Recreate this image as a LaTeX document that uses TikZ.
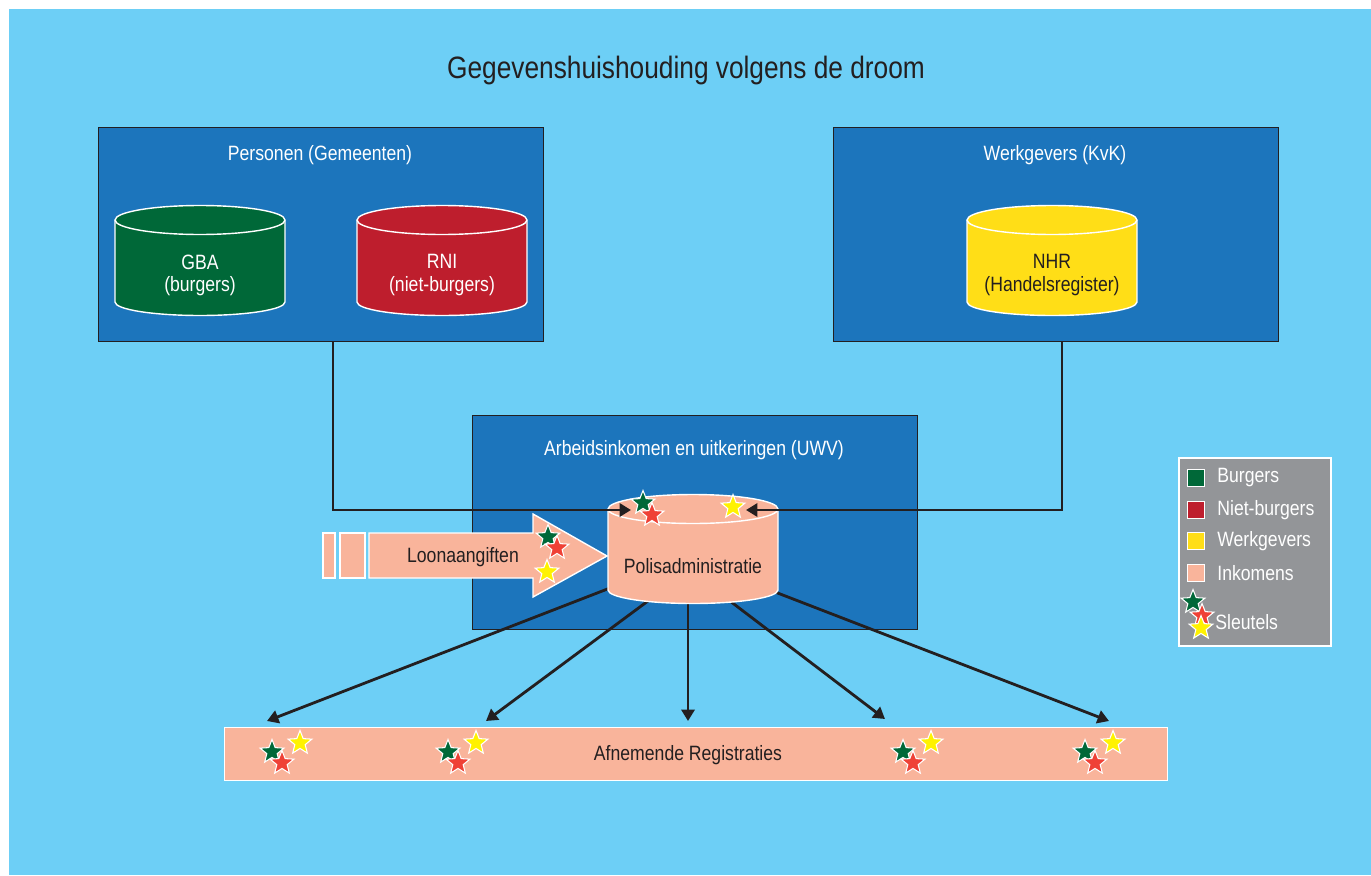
\documentclass[tikz,border=0pt]{standalone}
\usepackage{fontspec}
\setmainfont{Liberation Sans}[FakeStretch=0.85]
\usetikzlibrary{shapes.geometric,arrows.meta}
\definecolor{bgblue}{HTML}{6DCFF6}
\definecolor{boxblue}{HTML}{1C75BC}
\definecolor{dark}{HTML}{231F20}
\definecolor{gbagreen}{HTML}{006838}
\definecolor{rnired}{HTML}{BE1E2D}
\definecolor{nhryellow}{HTML}{FFDE17}
\definecolor{salmon}{HTML}{F9B49B}
\definecolor{legendgray}{HTML}{939598}
\definecolor{starred}{HTML}{EF4136}
\definecolor{staryellow}{HTML}{FFF200}
\newcommand\dbcyl[4]{%
  \filldraw[fill=#4, draw=white, line width=0.8pt] (#1-85,-#2) -- (#1-85,-#3)
    arc[start angle=180,end angle=360,x radius=1.7cm,y radius=0.27cm] -- (#1+85,-#2)
    arc[start angle=0,end angle=180,x radius=1.7cm,y radius=0.29cm] -- cycle;
  \draw[white, line width=0.8pt] (#1-85,-#2) arc[start angle=180,end angle=360,x radius=1.7cm,y radius=0.29cm];
}
\newcommand\keygroup[3]{%
  \node[keystar=gbagreen] (#3g) at (#1,-#2) {};
  \node[keystar=starred] (#3r) at (#1+10,-#2-11) {};
  \node[keystar=staryellow] (#3y) at (#1+28,-#2+9) {};
}
\tikzset{
  keystar/.style={star, star points=5, star point ratio=2.3, inner sep=0pt, minimum size=0.5cm, draw=white, line width=0.6pt, fill=#1},
  bluebox/.style={draw=dark, fill=boxblue, line width=0.7pt, anchor=north west, inner sep=0pt},
  lbl/.style={font=\fontsize{11.8}{12.6}\selectfont, text=white, align=center, inner sep=0pt},
  dlbl/.style={font=\fontsize{11.8}{12.6}\selectfont, text=dark, align=center, inner sep=0pt},
  conn/.style={draw=dark, line width=1.6pt, -{Triangle[length=6.5pt,width=7.5pt]}},
  salmonshape/.style={fill=salmon, draw=white, line width=0.8pt},
  legsq/.style={draw=white, line width=0.6pt, minimum size=0.33cm, inner sep=0pt, fill=#1},
}
\begin{document}
\begin{tikzpicture}[x=0.02cm, y=0.02cm]
\useasboundingbox (0,0) rectangle (1371,-875);
\fill[white] (0,0) rectangle (1371,-875);
\fill[bgblue] (9,-9) rectangle (1371,-875);

\node[font=\fontsize{17.6}{20}\selectfont, text=dark] (title) at (686,-71) {Gegevenshuishouding volgens de droom};

% boxes
\node[bluebox, minimum width=8.9cm, minimum height=4.28cm] (pers) at (98,-127) {};
\node[lbl] (perslbl) at (320,-155) {Personen (Gemeenten)};
\node[bluebox, minimum width=8.9cm, minimum height=4.28cm] (werk) at (833,-127) {};
\node[lbl] (werklbl) at (1055,-155) {Werkgevers (KvK)};
\node[bluebox, minimum width=8.9cm, minimum height=4.28cm] (uwv) at (472,-415) {};
\node[lbl] (uwvlbl) at (694,-450) {Arbeidsinkomen en uitkeringen (UWV)};

% cylinders in top boxes
\dbcyl{200}{220}{302}{gbagreen}
\node[lbl] (gba) at (200,-275) {GBA\\(burgers)};
\dbcyl{442}{220}{302}{rnired}
\node[lbl] (rni) at (442,-275) {RNI\\(niet-burgers)};
\dbcyl{1052}{220}{302}{nhryellow}
\node[dlbl] (nhr) at (1052,-275) {NHR\\(Handelsregister)};

% connector coordinates
\coordinate (pdown) at (333,-341);
\coordinate (pturn) at (333,-510);
\coordinate (polisL) at (631,-510);
\coordinate (wdown) at (1062,-341);
\coordinate (wturn) at (1062,-510);
\coordinate (polisR) at (746,-510);
\coordinate (o1) at (610,-588);
\coordinate (o2) at (652,-598);
\coordinate (o3) at (688,-598);
\coordinate (o4) at (726,-598);
\coordinate (o5) at (775,-592);
\coordinate (t1) at (267,-721);
\coordinate (t2) at (486,-721);
\coordinate (t3) at (688,-721);
\coordinate (t4) at (885,-719);
\coordinate (t5) at (1109,-721);

\foreach \i in {1,...,5} {\draw[conn] (o\i) -- (t\i);}

% Polisadministratie
\dbcyl{693}{509}{590}{salmon}
\node[dlbl] (polis) at (693,-566) {Polisadministratie};

\draw[conn] (pdown) -- (pturn) -- (polisL);
\draw[conn] (wdown) -- (wturn) -- (polisR);

% Loonaangiften arrow
\filldraw[salmonshape] (323,-533) rectangle (335,-578);
\filldraw[salmonshape] (340,-533) rectangle (365,-578);
\filldraw[salmonshape] (369,-533) -- (533,-533) -- (533,-514) -- (607,-556) -- (533,-597) -- (533,-578) -- (369,-578) -- cycle;
\node[dlbl] (loon) at (463,-557) {Loonaangiften};

% Afnemende registraties
\node[salmonshape, minimum width=18.86cm, minimum height=1.06cm, anchor=north west, inner sep=0pt] (afn) at (224,-727) {};
\node[dlbl] (afnlbl) at (688,-755) {Afnemende Registraties};

% stars
\node[keystar=gbagreen] (lg) at (548,-537) {};
\node[keystar=starred] (lr) at (557,-548) {};
\node[keystar=staryellow] (ly) at (547,-572) {};
\node[keystar=gbagreen] (pg) at (643,-503) {};
\node[keystar=starred] (pr) at (652,-515) {};
\node[keystar=staryellow] (py) at (733,-507) {};
\keygroup{272}{752}{a}
\keygroup{448}{752}{b}
\keygroup{903}{752}{c}
\keygroup{1085}{752}{d}

% legend
\filldraw[fill=legendgray, draw=white, line width=0.8pt] (1179,-458) rectangle (1331,-646);
\node[legsq=gbagreen] (sq1) at (1196,-478) {};
\node[legsq=rnired] (sq2) at (1196,-510) {};
\node[legsq=nhryellow] (sq3) at (1196,-541) {};
\node[legsq=salmon] (sq4) at (1196,-573) {};
\node[lbl, anchor=west] (lt1) at (1217,-478) {Burgers};
\node[lbl, anchor=west] (lt2) at (1217,-510) {Niet-burgers};
\node[lbl, anchor=west] (lt3) at (1217,-541) {Werkgevers};
\node[lbl, anchor=west] (lt4) at (1217,-573) {Inkomens};
\node[keystar=gbagreen] (kg) at (1193,-602) {};
\node[keystar=starred] (kr) at (1202,-616) {};
\node[keystar=staryellow] (ky) at (1201,-628) {};
\node[lbl, anchor=west] (lt5) at (1215,-622) {Sleutels};
\end{tikzpicture}
\end{document}
